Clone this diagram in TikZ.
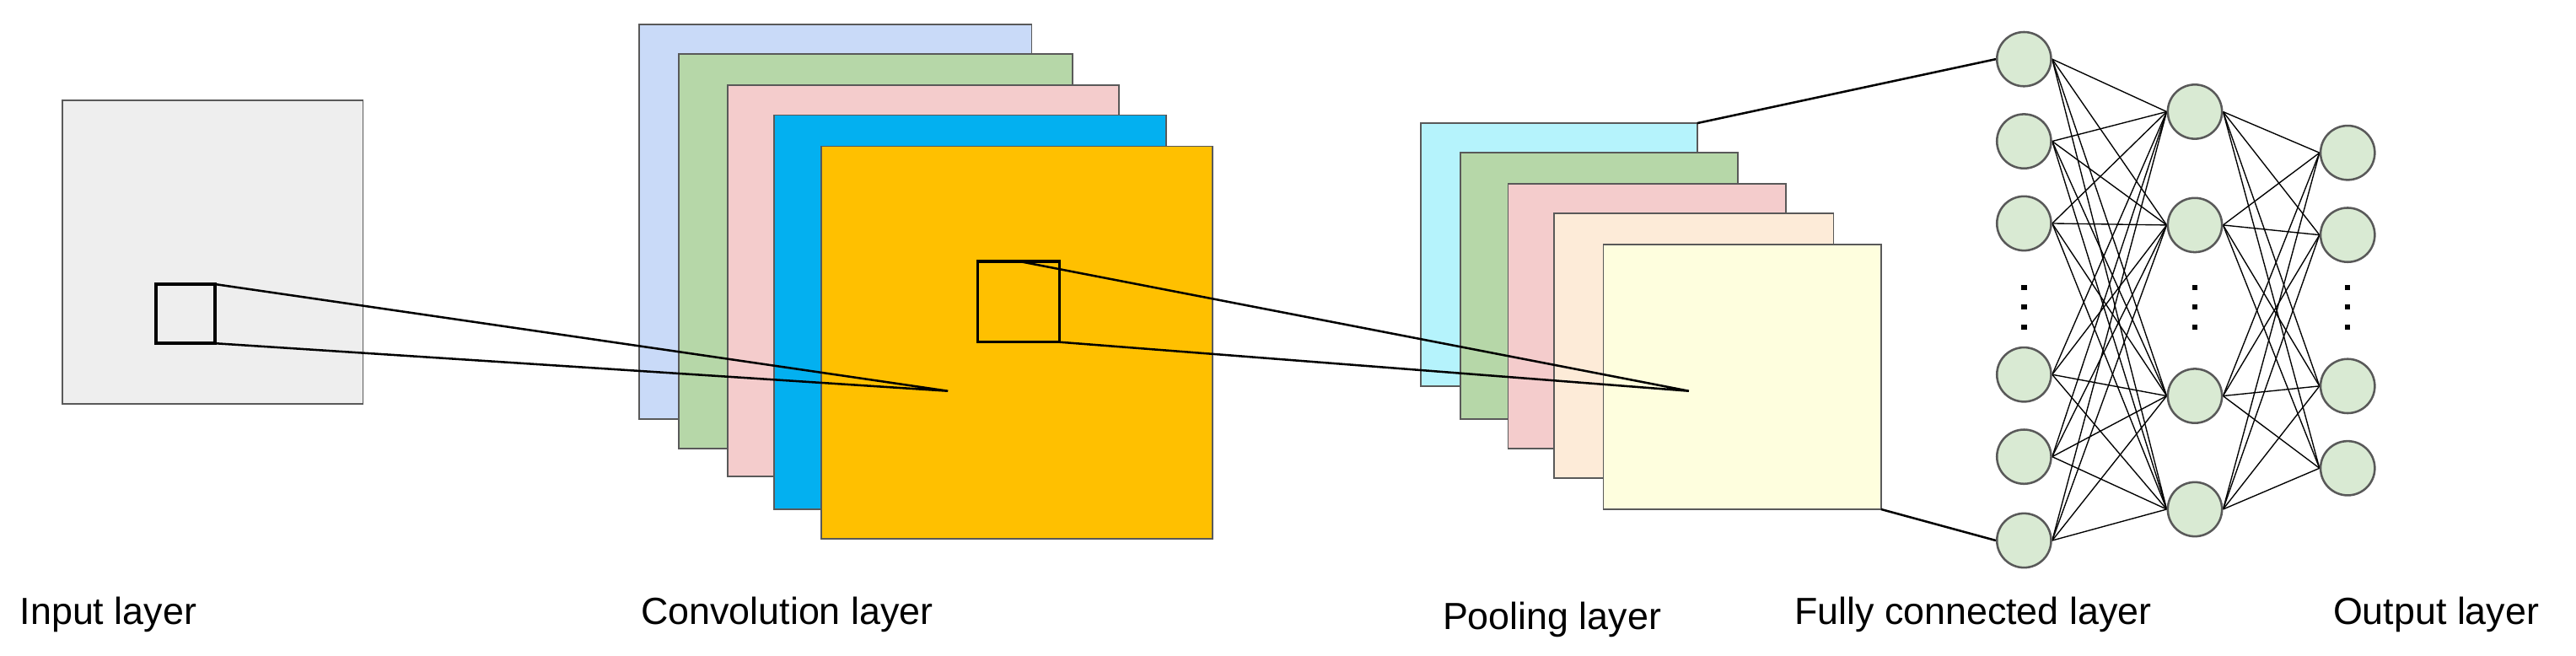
\documentclass[tikz,border=0pt]{standalone}
\usepackage{fontspec}
\setmainfont{Liberation Sans}
\usetikzlibrary{backgrounds}
\begin{document}
\begin{tikzpicture}[x=1pt,y=-1pt,
  lay/.style={draw=black!65,line width=0.9pt},
  sq/.style={draw=black,line width=1.8pt},
  ray/.style={draw=black,line width=1.3pt},
  neu/.style={circle,draw=black!65,line width=1.3pt,fill=nfill,minimum size=33pt,inner sep=0pt},
  edge/.style={draw=black,line width=0.7pt},
  dot/.style={fill=black,minimum size=3.2pt,inner sep=0pt},
  lab/.style={anchor=base west,font=\fontsize{23}{26}\selectfont,inner sep=0pt}]
\definecolor{nfill}{HTML}{D9EAD3}
\definecolor{cinput}{HTML}{EEEEEE}
\definecolor{cblue}{HTML}{C9DAF8}
\definecolor{cgreen}{HTML}{B6D7A8}
\definecolor{cpink}{HTML}{F4CCCC}
\definecolor{ccyan}{HTML}{03B0F0}
\definecolor{corange}{HTML}{FFC000}
\definecolor{plcyan}{HTML}{B5F3FC}
\definecolor{plcream}{HTML}{FDEBD8}
\definecolor{plyellow}{HTML}{FEFEDE}
\useasboundingbox (0,0) rectangle (1568,399);
% input
\filldraw[lay,fill=cinput] (38,61) rectangle (221,246);
\draw[sq] (95,173) rectangle (131,209);
\coordinate (a1) at (131,173); \coordinate (a2) at (131,209);
% conv
\filldraw[lay,fill=cblue] (389,15) rectangle (628,255);
\filldraw[lay,fill=cgreen] (413,33) rectangle (653,273);
\filldraw[lay,fill=cpink] (443,52) rectangle (681,290);
\filldraw[lay,fill=ccyan] (471,70) rectangle (710,310);
\filldraw[lay,fill=corange] (500,89) rectangle (738,328);
\coordinate (ap1) at (577,238);
\draw[ray] (a1) -- (ap1) -- (a2);
\draw[sq] (595,159) rectangle (645,208);
\coordinate (b1) at (620,159); \coordinate (b2) at (642,208);
% pooling
\filldraw[lay,fill=plcyan] (865,75) rectangle (1033,235);
\filldraw[lay,fill=cgreen] (889,93) rectangle (1058,255);
\filldraw[lay,fill=cpink] (918,112) rectangle (1087,273);
\filldraw[lay,fill=plcream] (946,130) rectangle (1116,291);
\filldraw[lay,fill=plyellow] (976,149) rectangle (1145,310);
\coordinate (ap2) at (1028,238);
\draw[ray] (b1) -- (ap2) -- (b2);
\coordinate (p1) at (1033,75); \coordinate (p2) at (1145,310);
% neurons
\foreach \i/\y in {1/36,2/86,3/136,4/228,5/278,6/329} \node[neu] (f\i) at (1232,\y) {};
\foreach \i/\y in {1/68,2/137,3/241,4/310} \node[neu] (h\i) at (1336,\y) {};
\foreach \i/\y in {1/93,2/143,3/235,4/285} \node[neu] (o\i) at (1429,\y) {};
\foreach \x/\n in {1232/f,1336/h,1429/o}{
  \foreach \k/\y in {1/171,2/183,3/195}{ \node[dot] (\n d\k) at (\x,\y+4) {}; }}
\begin{scope}[on background layer]
\foreach \i in {1,...,6} \foreach \j in {1,...,4} \draw[edge] (f\i.east) -- (h\j.west);
\foreach \i in {1,...,4} \foreach \j in {1,...,4} \draw[edge] (h\i.east) -- (o\j.west);
\end{scope}
\draw[ray] (p1) -- (f1.west);
\draw[ray] (p2) -- (f6.west);
% labels
\node[lab] (l1) at (12,380) {Input layer};
\node[lab] (l2) at (390,380) {Convolution layer};
\node[lab] (l3) at (878,383) {Pooling layer};
\node[lab] (l4) at (1092,380) {Fully connected layer};
\node[lab] (l5) at (1420,380) {Output layer};
\end{tikzpicture}
\end{document}
